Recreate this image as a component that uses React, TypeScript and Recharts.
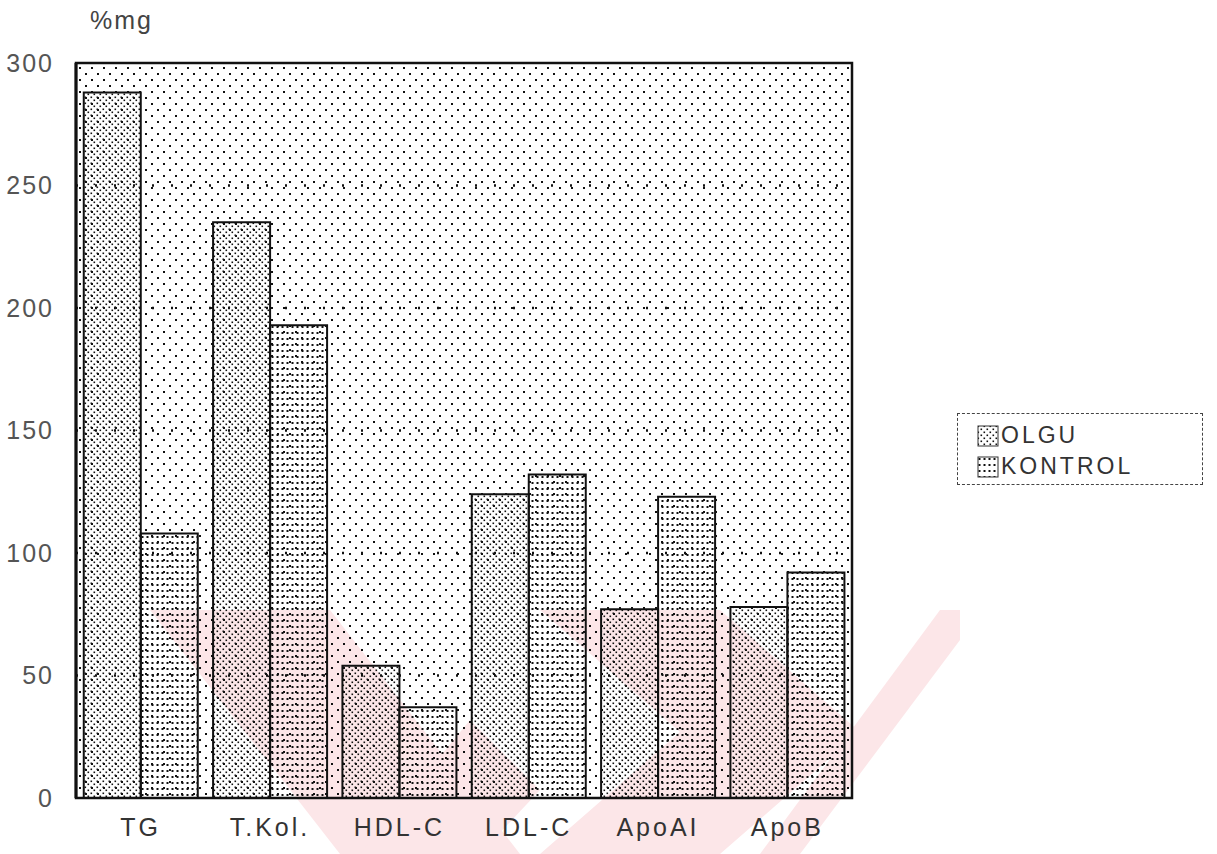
import {
  Bar,
  BarChart,
  CartesianGrid,
  ReferenceArea,
  XAxis,
  YAxis,
} from "recharts";

const CATEGORIES = ["TG", "T.Kol.", "HDL-C", "LDL-C", "ApoAI", "ApoB"];
const OLGU = [288, 235, 54, 124, 77, 78];
const KONTROL = [108, 193, 37, 132, 123, 92];
const Y_TICKS = [0, 50, 100, 150, 200, 250, 300];
const MINOR_TICKS = Array.from({ length: 61 }, (_, i) => i * 5);

const data = CATEGORIES.map((name, i) => ({
  name,
  olgu: OLGU[i],
  kontrol: KONTROL[i],
}));

const INK = "#111";
const FONT = "'Liberation Sans', Arial, sans-serif";

function PatternDefs({ suffix = "" }: { suffix?: string }) {
  return (
    <defs>
      <pattern id={`bgDots${suffix}`} width="12" height="12" patternUnits="userSpaceOnUse">
        <rect x="1" y="1" width="2" height="2" fill={INK} />
        <rect x="7" y="7" width="2" height="2" fill={INK} />
      </pattern>
      <pattern id={`olguDots${suffix}`} width="6" height="6" patternUnits="userSpaceOnUse">
        <rect x="0.5" y="0.5" width="1.6" height="1.6" fill={INK} />
        <rect x="3.5" y="3.5" width="1.6" height="1.6" fill={INK} />
      </pattern>
      <pattern id={`kontrolDots${suffix}`} width="5" height="6" patternUnits="userSpaceOnUse">
        <rect x="1.5" y="2" width="2" height="2" fill={INK} />
      </pattern>
    </defs>
  );
}

function LegendBox() {
  const items = [
    { label: "OLGU", fill: "url(#olguDotsL)" },
    { label: "KONTROL", fill: "url(#kontrolDotsL)" },
  ];
  return (
    <div
      style={{
        position: "absolute",
        left: 957,
        top: 413,
        width: 246,
        height: 72,
        boxSizing: "border-box",
        border: "1px dashed #444",
        padding: "6px 0 0 19px",
        fontFamily: FONT,
      }}
    >
      <svg width="0" height="0" style={{ position: "absolute" }}>
        <PatternDefs suffix="L" />
      </svg>
      {items.map((it) => (
        <div
          key={it.label}
          style={{ display: "flex", alignItems: "center", height: 31 }}
        >
          <svg width="22" height="22" style={{ marginRight: 2 }}>
            <rect x="1" y="1" width="20" height="20" fill={it.fill} stroke="#333" strokeWidth="1" />
          </svg>
          <span style={{ fontSize: 23, color: "#333", letterSpacing: 3 }}>{it.label}</span>
        </div>
      ))}
    </div>
  );
}

function Watermark() {
  return (
    <svg
      width={1217}
      height={854}
      style={{ position: "absolute", left: 0, top: 0 }}
    >
      <g fill="#fce6e8">
        <polygon points="150,610 330,610 520,854 340,854" />
        <polygon points="540,610 720,610 860,732 720,854 540,854 680,732" />
        <polygon points="360,854 470,720 540,790 480,854" />
        <polygon points="760,854 940,610 960,610 960,640 800,854" />
      </g>
    </svg>
  );
}

export default function App() {
  return (
    <div
      style={{
        position: "absolute",
        left: 0,
        top: 0,
        width: 1217,
        height: 854,
        background: "#fff",
        fontFamily: FONT,
      }}
    >
      <Watermark />
      <div
        style={{
          position: "absolute",
          left: 90,
          top: 6,
          fontSize: 25,
          color: "#444",
          letterSpacing: 2,
        }}
      >
        %mg
      </div>
      <LegendBox />
      <div style={{ position: "absolute", left: 0, top: 0 }}>
        <BarChart
          width={1217}
          height={854}
          data={data}
          margin={{ top: 63, right: 365, bottom: 16, left: 16 }}
          barCategoryGap="6%"
          barGap={0}
        >
          <PatternDefs />
          <CartesianGrid
            vertical={false}
            fill="url(#bgDots)"
            fillOpacity={1}
            stroke={INK}
            strokeWidth={2.5}
            strokeDasharray="2 17"
            horizontalValues={[50, 100, 150, 200, 250]}
          />
          <XAxis
            dataKey="name"
            tickLine={false}
            tickSize={0}
            tickMargin={20}
            height={40}
            axisLine={{ stroke: INK, strokeWidth: 2 }}
            tick={{ fontSize: 25, fill: "#333", letterSpacing: 3 }}
          />
          <YAxis
            yAxisId="minor"
            domain={[0, 300]}
            ticks={MINOR_TICKS}
            tick={false}
            tickSize={4}
            width={0}
            axisLine={false}
            tickLine={{ stroke: INK, strokeWidth: 1.5 }}
          />
          <YAxis
            domain={[0, 300]}
            ticks={Y_TICKS}
            width={60}
            tickLine={false}
            tickMargin={16}
            axisLine={{ stroke: INK, strokeWidth: 3 }}
            tick={{ fontSize: 25, fill: "#555", letterSpacing: 2 }}
          />
          <Bar
            dataKey="olgu"
            name="OLGU"
            fill="url(#olguDots)"
            stroke={INK}
            strokeWidth={2}
            isAnimationActive={false}
          />
          <Bar
            dataKey="kontrol"
            name="KONTROL"
            fill="url(#kontrolDots)"
            stroke={INK}
            strokeWidth={2}
            isAnimationActive={false}
          />
          <ReferenceArea
            y1={0}
            y2={300}
            fill="none"
            stroke={INK}
            strokeWidth={2.5}
            ifOverflow="visible"
          />
        </BarChart>
      </div>
    </div>
  );
}
